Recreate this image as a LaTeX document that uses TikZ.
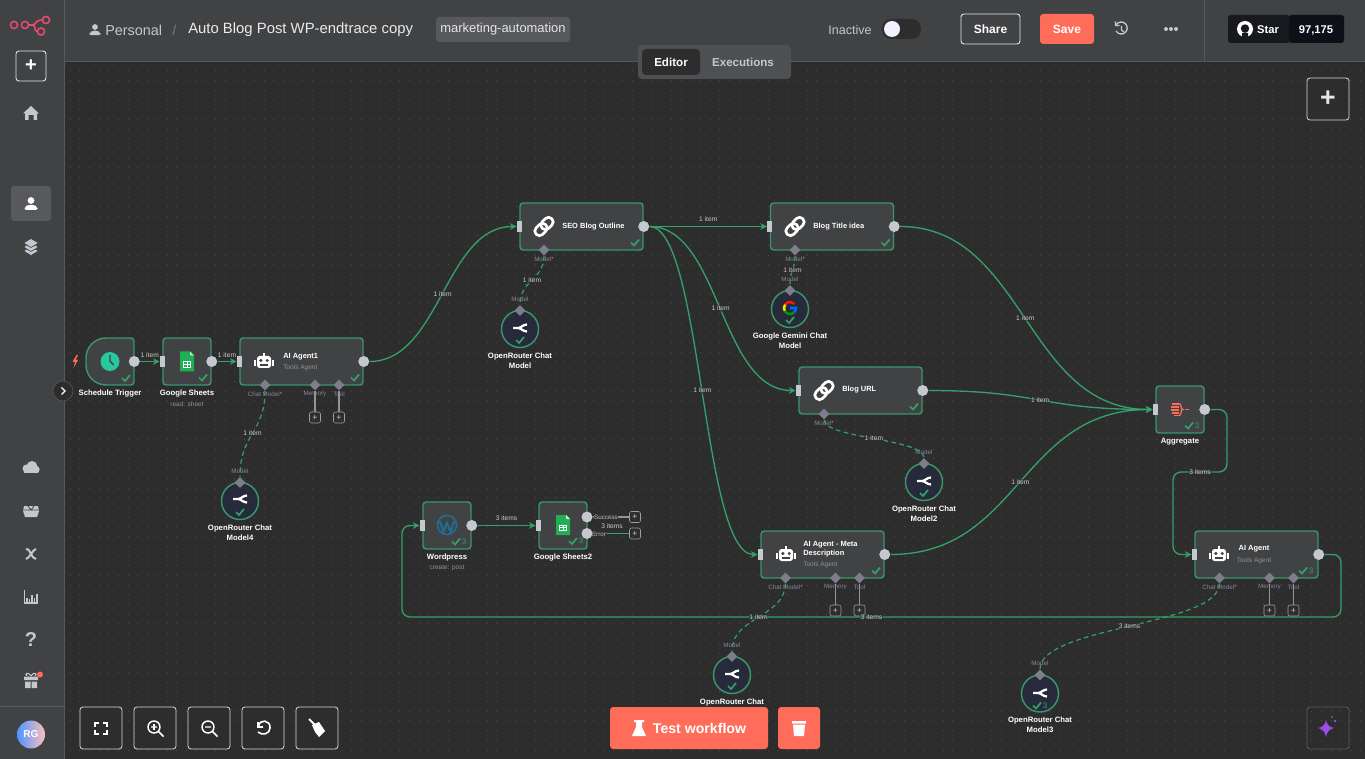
\documentclass[tikz,border=0pt]{standalone}
\usepackage{fontspec}
\setmainfont{Liberation Sans}
\usetikzlibrary{calc,arrows.meta,shapes.geometric}
\newcommand{\pixelsize}{0.75pt}
\definecolor{canvasgray}{HTML}{2D2D2D}
\definecolor{chromegray}{HTML}{414244}
\definecolor{chromeline}{HTML}{58595C}
\definecolor{canvasdot}{HTML}{4A4A4A}
\definecolor{stepgreen}{HTML}{38966A}
\definecolor{edgegreen}{HTML}{35A06A}
\definecolor{portgray}{HTML}{C6C8D0}
\definecolor{markgray}{HTML}{7D7E8C}
\definecolor{taggray}{HTML}{85869A}
\definecolor{iconlight}{HTML}{C4C7CE}
\definecolor{coral}{HTML}{FF6D5A}
\definecolor{logopink}{HTML}{EA4B71}
\definecolor{chatnavy}{HTML}{272A3A}
\definecolor{sheetgreen}{HTML}{20B054}
\definecolor{clockteal}{HTML}{29C79E}
\definecolor{wordblue}{HTML}{1F6E96}
\definecolor{starbase}{HTML}{17191E}
\definecolor{starcount}{HTML}{0D1117}
\tikzset{
	stepbox/.style={draw=stepgreen,fill=chromegray,line width=1.1pt,rounded corners=2.4pt,minimum height=47*\pixelsize,inner sep=0pt},
	inport/.style={fill=portgray,minimum width=5*\pixelsize,minimum height=11*\pixelsize,inner sep=0pt},
	outport/.style={circle,fill=portgray,minimum size=11*\pixelsize,inner sep=0pt},
	portmark/.style={diamond,fill=markgray,minimum size=11*\pixelsize,inner sep=0pt},
	portlabel/.style={text=taggray,font=\fontsize{4.7}{5.5}\selectfont,inner sep=0pt},
	plusbox/.style={draw=iconlight!80!black,rounded corners=1.5pt,minimum size=11*\pixelsize,inner sep=0pt,text=iconlight,font=\fontsize{6.5}{6.5}\selectfont},
	chatcircle/.style={circle,draw=stepgreen,fill=chatnavy,line width=1.1pt,minimum size=37*\pixelsize,inner sep=0pt},
	steptitle/.style={text=white,font=\bfseries\fontsize{5.6}{7}\selectfont,inner sep=0pt,align=left},
	stepname/.style={text=white,font=\bfseries\fontsize{5.8}{7.5}\selectfont,inner sep=0pt,align=center},
	stepnote/.style={text=gray!85!white,font=\fontsize{4.9}{6}\selectfont,inner sep=0pt},
	itemlabel/.style={text=white!80!black,font=\fontsize{5}{6}\selectfont,fill=canvasgray,fill opacity=0.55,text opacity=1,inner sep=0.6pt},
	flowedge/.style={draw=edgegreen,line width=1pt,-{Stealth[length=5pt,width=5pt]}},
	modeledge/.style={draw=edgegreen,line width=0.9pt,dash pattern=on 3.5pt off 2.6pt},
	plainedge/.style={draw=edgegreen,line width=1pt},
	graywire/.style={draw=iconlight!75!black,line width=0.8pt},
	toolbutton/.style={draw=white!85!black,fill=canvasgray,line width=0.6pt,rounded corners=2.2pt,minimum size=42*\pixelsize,inner sep=0pt},
	corallabel/.style={fill=coral,rounded corners=2.4pt,inner sep=0pt,text=white,font=\bfseries\fontsize{10.6}{12}\selectfont},
	chromeicon/.style={fill=iconlight,draw=none},
	chrometext/.style={inner sep=0pt,font=\fontsize{10.8}{13}\selectfont}
}
\newcommand{\makecheck}[4][edgegreen]{
	\begin{scope}[shift={(#2,#3)}]
	\draw[#1,line width=1.3pt] (-4,0) -- (-1,3) -- (4,-3);
	\ifx&#4&\else\node[inner sep=0pt,text=#1,font=\fontsize{6}{7}\selectfont] at (8,0) {#4};\fi
	\end{scope}
}
\newcommand{\makestep}[5]{
	\node[stepbox,minimum width=#4*\pixelsize] (#1) at (#2,#3) {};
	\node[inport] (#1In) at (#1.west) {};
	\node[outport] (#1Out) at (#1.east) {};
	\coordinate (#1Check) at ($(#1.south east)+(-8,-7)$);
	\ifx&#5&\makecheck{#2+#4/2-8}{#3+16}{}\else\makecheck{#2+#4/2-15}{#3+16}{#5}\fi
}
\newcommand{\makeport}[5]{
	\node[portmark] (#1) at (#2,#3) {};
	\node[portlabel] (#1Tag) at (#2,#3+9) {#4\ifx&#5&\else\textcolor{coral}{*}\fi};
}
\newcommand{\makeplus}[4]{
	\node[plusbox] (#1) at (#2,#3) {+};
	\draw[graywire] (#4) -- (#1);
}
\newcommand{\maketools}[3]{
	\makeport{#1Chat}{#2+24}{#3+23.5}{Chat Model}{*}
	\makeport{#1Memory}{#2+74}{#3+23.5}{Memory}{}
	\makeport{#1Tool}{#2+98}{#3+23.5}{Tool}{}
	\makeplus{#1MemoryAdd}{#2+74}{#3+56}{#1Memory}
	\makeplus{#1ToolAdd}{#2+98}{#3+56}{#1Tool}
}
\newcommand{\makechat}[6]{
	\node[chatcircle] (#1) at (#2,#3) {};
	\node[portmark] (#1Top) at (#2,#3-18.5) {};
	\node[portlabel] (#1Tag) at (#2,#3-30) {Model};
	\node[stepname,anchor=north] (#1Name) at (#2,#3+23.5) {#4};
	\ifx&#5&\makecheck{#2}{#3+11}{}\else\makecheck{#2-3}{#3+12}{#5}\fi
	#6
}
\newcommand{\makerouter}[2]{
	\begin{scope}[shift={(#1,#2)}]
	\draw[white,line width=1.7pt] (-7,0) -- (-2,0) .. controls (1,0) and (3,-3.5) .. (7,-3.5);
	\draw[white,line width=1.7pt] (-2,0) .. controls (1,0) and (3,3.5) .. (7,3.5);
	\end{scope}
}
\newcommand{\makerobot}[2]{
	\begin{scope}[shift={(#1,#2)}]
	\fill[white,rounded corners=2pt] (-7,-5) rectangle (7,7);
	\fill[white] (-10,-1) rectangle (-8,5);
	\fill[white] (8,-1) rectangle (10,5);
	\fill[white] (-0.7,-8) rectangle (0.7,-4);
	\fill[chromegray] (-3.2,-0.5) circle (1.7);
	\fill[chromegray] (3.2,-0.5) circle (1.7);
	\fill[chromegray] (-4,3.2) rectangle (4,5);
	\end{scope}
}
\newcommand{\makelink}[2]{
	\begin{scope}[shift={(#1,#2)},rotate=45]
	\draw[white,line width=2pt,rounded corners=3.3pt] (-11,-4.6) rectangle (2.5,4.6);
	\draw[white,line width=2pt,rounded corners=3.3pt] (-2.5,-4.6) rectangle (11,4.6);
	\end{scope}
}
\newcommand{\makesheet}[2]{
	\begin{scope}[shift={(#1,#2)}]
	\fill[sheetgreen] (-7,-10) -- (3,-10) -- (7,-6) -- (7,10) -- (-7,10) -- cycle;
	\fill[white!70!sheetgreen] (3,-10) -- (7,-6) -- (3,-6) -- cycle;
	\draw[white,line width=0.6pt] (-3.5,0) rectangle (3.5,5.5);
	\draw[white,line width=0.6pt] (0,0) -- (0,5.5) (-3.5,2.8) -- (3.5,2.8);
	\end{scope}
}
\newcommand{\makeuser}[4]{
	\begin{scope}[shift={(#1,#2)},scale=#3]
	\fill[#4] (0,-3.5) circle (3.4);
	\fill[#4,rounded corners=1.5pt] (-6.5,6) -- (-6.5,3) -- (-3,0.8) -- (3,0.8) -- (6.5,3) -- (6.5,6) -- cycle;
	\end{scope}
}
\begin{document}
\begin{tikzpicture}[x=\pixelsize,y=-\pixelsize]
	\useasboundingbox (0,0) rectangle (1365,759);
	\fill[canvasgray] (0,0) rectangle (1365,759);
	\foreach \row in {71,80.7,...,750}
		\draw[canvasdot,line width=0.75pt,dash pattern=on 0.75pt off 6.525pt] (69.5,\row) -- (1365,\row);

	\draw[stepbox] (134,338) [rounded corners=2.4pt] -- (134,385) [rounded corners=15pt] -- (86,385) -- (86,338) [rounded corners=2.4pt] -- cycle;
	\node[minimum width=48*\pixelsize,minimum height=47*\pixelsize,inner sep=0pt] (trigger) at (110,361.5) {};
	\node[outport] (triggerOut) at (trigger.east) {};
	\fill[clockteal] (trigger) circle (9.5);
	\draw[chromegray,line width=1.1pt] (110,355) -- (110,361) -- (113.5,365);
	\makecheck{126}{378}{}
	\fill[coral] (76.5,355) -- (72.5,362) -- (75,362) -- (73.5,368) -- (78,360) -- (75.5,360) -- (78,355) -- cycle;
	\node[stepname] (triggerName) at (110,393.5) {Schedule Trigger};

	\makestep{sheetOne}{187}{361.5}{48}{}
	\makesheet{187}{361.5}
	\node[stepname] (sheetOneName) at (187,393.5) {Google Sheets};
	\node[stepnote] (sheetOneNote) at (187,404) {read: sheet};

	\makestep{agentOne}{301.5}{361.5}{123}{}
	\makerobot{264}{361}
	\node[steptitle,anchor=west] (agentOneName) at (283,357) {AI Agent1};
	\node[stepnote,anchor=west] (agentOneNote) at (283,368) {Tools Agent};
	\maketools{agentOne}{241}{361.5}
	\makechat{chatFour}{240}{501}{OpenRouter Chat\\Model4}{}{\makerouter{240}{499}}

	\makestep{outline}{581.5}{226.5}{123}{}
	\makelink{544}{226.5}
	\node[steptitle,anchor=west] (outlineName) at (562,226.5) {SEO Blog Outline};
	\makeport{outlineModel}{544}{250}{Model}{*}
	\makechat{chatOne}{520}{329}{OpenRouter Chat\\Model}{}{\makerouter{520}{328}}

	\makestep{idea}{832}{226.5}{123}{}
	\makelink{795}{226.5}
	\node[steptitle,anchor=west] (ideaName) at (813,226.5) {Blog Title idea};
	\makeport{ideaModel}{795}{250}{Model}{*}
	\makechat{gemini}{790}{309}{Google Gemini Chat\\Model}{}{
		\begin{scope}[shift={(790,308)}]
		\draw[red!80!orange,line width=1.9pt] (215:6) arc[start angle=215,end angle=315,radius=6];
		\draw[yellow!85!orange,line width=1.9pt] (150:6) arc[start angle=150,end angle=215,radius=6];
		\draw[green!60!black,line width=1.9pt] (45:6) arc[start angle=45,end angle=150,radius=6];
		\draw[blue!60!cyan,line width=1.9pt] (0,0) -- (6,0) arc[start angle=0,end angle=45,radius=6];
		\end{scope}
	}

	\makestep{url}{860.5}{390.5}{123}{}
	\makelink{824}{390.5}
	\node[steptitle,anchor=west] (urlName) at (842,390) {Blog URL};
	\makeport{urlModel}{824}{414}{Model}{*}
	\makechat{chatTwo}{924}{482}{OpenRouter Chat\\Model2}{}{\makerouter{924}{481}}

	\makestep{aggregate}{1180}{409.5}{48}{3}
	\begin{scope}[shift={(1179,409.5)},coral,line width=0.95pt]
	\draw (-7,-5.5) -- (0,-5.5) (-8,-2.5) -- (0,-2.5) (-8,0.5) -- (0,0.5) (-7,3.5) -- (0,3.5) (-5,6) -- (0,6);
	\draw (0,-6) .. controls (3,-6) and (1,0) .. (4,0) .. controls (1,0) and (3,6) .. (0,6);
	\draw (6,0) -- (10,0);
	\end{scope}
	\node[stepname] (aggregateName) at (1180,441.5) {Aggregate};

	\makestep{agent}{1256.5}{554.5}{123}{3}
	\makerobot{1219}{554}
	\node[steptitle] (agentName) at (1254,549) {AI Agent};
	\node[stepnote] (agentNote) at (1254,560.5) {Tools Agent};
	\maketools{agent}{1195.5}{554.5}
	\makechat{chatThree}{1040}{693.5}{OpenRouter Chat\\Model3}{3}{\makerouter{1040}{693}}

	\makestep{meta}{822.5}{554.5}{123}{}
	\makerobot{786}{554}
	\node[steptitle,anchor=west] (metaName) at (803,549) {AI Agent - Meta\\Description};
	\node[stepnote,anchor=west] (metaNote) at (803,565) {Tools Agent};
	\maketools{meta}{761.5}{554.5}
	\makechat{chatZero}{732}{675}{OpenRouter Chat}{}{\makerouter{732}{674}}

	\makestep{wordpress}{447}{525.5}{48}{3}
	\begin{scope}[shift={(447,525)}]
	\draw[wordblue,line width=1.2pt] (0,0) circle (9.5);
	\draw[wordblue,line width=1.5pt] (-7,-3.5) -- (-3.5,6.5) -- (0,-2) -- (3.5,6.5) -- (7,-3.5);
	\end{scope}
	\node[stepname] (wordpressName) at (447,557.5) {Wordpress};
	\node[stepnote] (wordpressNote) at (447,568) {create: post};

	\node[stepbox,minimum width=48*\pixelsize] (sheetTwo) at (563,525.5) {};
	\node[inport] (sheetTwoIn) at (sheetTwo.west) {};
	\node[outport] (sheetTwoPass) at (587,517) {};
	\node[outport] (sheetTwoFail) at (587,533.5) {};
	\makecheck{573}{541}{3}
	\makesheet{563}{525}
	\node[stepname] (sheetTwoName) at (563,557.5) {Google Sheets2};
	\node[plusbox] (passAdd) at (635,517) {+};
	\node[plusbox] (failAdd) at (635,533.5) {+};
	\draw[graywire] (sheetTwoPass) -- (passAdd);
	\draw[plainedge] (sheetTwoFail) -- (failAdd);
	\node[portlabel,text=white!75!black,fill=canvasgray] (passTag) at (606,517) {Success};
	\node[portlabel,text=white!75!black,fill=canvasgray] (failTag) at (599,534) {Error};
	\node[itemlabel] (failCount) at (612,526) {3 items};

	\draw[flowedge] (triggerOut) -- node[itemlabel,yshift=4.5pt] (itemA) {1 item} (sheetOneIn);
	\draw[flowedge] (sheetOneOut) -- node[itemlabel,yshift=4.5pt] (itemB) {1 item} (agentOneIn);
	\draw[flowedge] (agentOneOut) .. controls (440,361.5) and (445,226.5) .. node[itemlabel] (itemC) {1 item} (outlineIn);
	\draw[flowedge] (outlineOut) -- node[itemlabel,yshift=5.5pt] (itemD) {1 item} (ideaIn);
	\draw[flowedge] (outlineOut) .. controls (720,226.5) and (720,390.5) .. node[itemlabel] (itemE) {1 item} (urlIn);
	\draw[flowedge] (outlineOut) .. controls (702,226.5) and (702,554.5) .. node[itemlabel] (itemF) {1 item} (metaIn);
	\draw[flowedge] (ideaOut) .. controls (1025,226.5) and (1025,409.5) .. node[itemlabel] (itemG) {1 item} (aggregateIn);
	\draw[flowedge] (urlOut) .. controls (1040,390.5) and (1040,409.5) .. node[itemlabel] (itemH) {1 item} (aggregateIn);
	\draw[flowedge] (metaOut) .. controls (1020,554.5) and (1020,409.5) .. node[itemlabel] (itemI) {1 item} (aggregateIn);
	\draw[flowedge,rounded corners=6pt] (aggregateOut) -- (1227,409.5) -- (1227,472) -- node[itemlabel] (itemJ) {3 items} (1173,472) -- (1173,554.5) -- (agentIn);
	\draw[flowedge,rounded corners=6pt] (agentOut) -- (1341,554.5) -- (1341,617) -- node[itemlabel] (itemK) {3 items} (402,617) -- (402,525.5) -- (wordpressIn);
	\draw[flowedge] (wordpressOut) -- node[itemlabel,yshift=5.5pt] (itemL) {3 items} (sheetTwoIn);

	\draw[modeledge] (agentOneChat) .. controls (265,433) and (240,433) .. node[itemlabel] (itemM) {1 item} (chatFourTop);
	\draw[modeledge] (outlineModel) .. controls (544,280) and (520,280) .. node[itemlabel] (itemN) {1 item} (chatOneTop);
	\draw[modeledge] (ideaModel) .. controls (795,270) and (790,270) .. node[itemlabel] (itemO) {1 item} (geminiTop);
	\draw[modeledge] (urlModel) .. controls (824,438.5) and (924,438.5) .. node[itemlabel] (itemP) {1 item} (chatTwoTop);
	\draw[modeledge] (metaChat) .. controls (785,617) and (732,617) .. node[itemlabel] (itemQ) {1 item} (chatZeroTop);
	\draw[modeledge] (agentChat) .. controls (1219,626) and (1040,626) .. node[itemlabel] (itemR) {3 items} (chatThreeTop);

	\fill[chromegray] (0,0) rectangle (64,759);
	\fill[chromegray] (0,0) rectangle (1365,62);
	\draw[chromeline,line width=0.75pt] (64,0) -- (64,759);
	\draw[chromeline,line width=0.75pt] (64,62) -- (1365,62);
	\draw[chromeline,line width=0.75pt] (1204,0) -- (1204,62);
	\draw[chromeline,line width=0.75pt] (0,706) -- (64,706);

	\begin{scope}[logopink,line width=1.15pt]
	\draw (14,25) circle (3.6);
	\draw (25,25) circle (3.6);
	\draw (28.6,25) -- (32,25) .. controls (37,25) and (34,20) .. (42.5,20);
	\draw (32,25) .. controls (37,25) and (33,31.5) .. (37.5,31.5);
	\draw (46,20) circle (3.6);
	\draw (41,31.5) circle (3.6);
	\end{scope}
	\node[draw=white!90!black,line width=0.7pt,rounded corners=2.2pt,minimum size=30*\pixelsize,inner sep=0pt,text=white,font=\bfseries\fontsize{15}{15}\selectfont] (addLeft) at (31,66) {+};
	\fill[chromeicon] (31,106) -- (39,113.5) -- (37,113.5) -- (37,120) -- (33.5,120) -- (33.5,115) -- (28.5,115) -- (28.5,120) -- (25,120) -- (25,113.5) -- (23,113.5) -- cycle;
	\fill[chromeline] (11,186) [rounded corners=2.4pt] rectangle (51,221);
	\makeuser{31}{204}{1}{white}
	\foreach \layer in {251,247,243}
		\filldraw[draw=chromegray,fill=iconlight,line width=0.5pt] (31,\layer-4.5) -- (38.5,\layer) -- (31,\layer+4.5) -- (23.5,\layer) -- cycle;
	\fill[chromeicon] (24,473) rectangle (38,469) (26.5,468.5) circle (4) (32,466.5) circle (5.5) (36,469.5) circle (3.7);
	\fill[chromeicon] (24,506) -- (38,506) -- (39,511) -- (37,517) -- (25,517) -- (23,511) -- cycle;
	\draw[chromegray,line width=0.6pt] (23,510) -- (39,510) (28,506) -- (31,510) -- (34,506);
	\draw[iconlight,line width=1.5pt] (26,549) .. controls (30,547) and (31,559) .. (36,559);
	\draw[iconlight,line width=1.5pt] (36,549) .. controls (33,549) and (29,559) .. (26,559);
	\draw[iconlight,line width=0.9pt] (24.5,590) -- (24.5,603) -- (38,603);
	\foreach \bar/\height in {27/4,29.5/2.5,32/7,34.5/4,37/8}
		\draw[iconlight,line width=0.9pt] (\bar,601.5) -- (\bar,601.5-\height);
	\node[inner sep=0pt,text=iconlight,font=\bfseries\fontsize{15}{15}\selectfont] (helpMark) at (31,640) {?};
	\fill[chromeicon] (24,680) rectangle (38,676.5) (25,681.5) rectangle (30.5,688) (31.5,681.5) rectangle (37,688);
	\draw[iconlight,line width=0.8pt] (31,676) .. controls (28,671) and (24,674) .. (27,676) (31,676) .. controls (34,671) and (38,674) .. (35,676);
	\fill[coral] (40,674.5) circle (3);
	\node[circle,minimum size=28*\pixelsize,inner sep=0pt,left color=blue!60!cyan!70!white,right color=white!75!red,text=white,font=\bfseries\fontsize{7.5}{8}\selectfont] (avatar) at (31,734.5) {RG};
	\node[circle,draw=chromeline,fill=canvasgray,minimum size=20*\pixelsize,inner sep=0pt] (expand) at (63,391) {};
	\draw[white,line width=0.9pt] (61.5,387.5) -- (65,391) -- (61.5,394.5);

	\makeuser{95}{30}{0.85}{iconlight}
	\node[chrometext,anchor=west,text=iconlight] (space) at (105,30) {Personal};
	\node[chrometext,anchor=west,text=chromeline!80!white] (slash) at (172,30) {/};
	\node[chrometext,anchor=west,text=white!92!black,font=\fontsize{11.15}{13}\selectfont] (title) at (188,30) {Auto Blog Post WP-endtrace copy};
	\node[fill=chromeline,rounded corners=2.4pt,minimum width=134*\pixelsize,minimum height=25*\pixelsize,inner sep=0pt,text=white!90!black,font=\fontsize{9.7}{11}\selectfont] (tagBox) at (503,29.5) {marketing-automation};
	\node[inner sep=0pt,text=iconlight,font=\fontsize{9.4}{11}\selectfont] (inactive) at (850,30) {Inactive};
	\fill[canvasgray,rounded corners=7pt] (882,19) rectangle (921,39);
	\fill[white!95!blue] (892,29) circle (8);
	\node[draw=white!90!black,line width=0.7pt,rounded corners=2.2pt,minimum width=59*\pixelsize,minimum height=30*\pixelsize,inner sep=0pt,text=white,font=\bfseries\fontsize{9}{11}\selectfont] (share) at (990.5,29) {Share};
	\node[corallabel,minimum width=54*\pixelsize,minimum height=30*\pixelsize,font=\bfseries\fontsize{9}{11}\selectfont] (save) at (1067,29) {Save};
	\draw[iconlight,line width=1pt] (1116,25) arc[start angle=210,end angle=510,radius=6];
	\draw[iconlight,line width=0.9pt] (1115.5,21.5) -- (1115.5,25.5) -- (1119.5,25.5) (1121.5,26) -- (1121.5,30) -- (1124,32);
	\foreach \spot in {1166,1171,1176}
		\fill[iconlight] (\spot,29) circle (2);
	\fill[starbase,rounded corners=2pt] (1228,15) rectangle (1290,43);
	\fill[starcount,rounded corners=2pt] (1289,15) rectangle (1344,43);
	\fill[white] (1245,29) circle (8);
	\fill[starbase] (1245,28.5) circle (4.2) (1242,33) rectangle (1248,38);
	\node[inner sep=0pt,text=white,font=\bfseries\fontsize{8.4}{10}\selectfont] (star) at (1268,30) {Star};
	\node[inner sep=0pt,text=white,font=\bfseries\fontsize{8.4}{10}\selectfont] (stars) at (1316,30) {97,175};

	\fill[chromeline!90!black,rounded corners=3pt] (638,45) rectangle (791,79);
	\fill[canvasgray,rounded corners=3pt] (642,49) rectangle (700,75);
	\node[inner sep=0pt,text=white,font=\bfseries\fontsize{8.7}{10}\selectfont] (editor) at (671,62) {Editor};
	\node[inner sep=0pt,text=iconlight,font=\bfseries\fontsize{8.7}{10}\selectfont] (runs) at (743,62) {Executions};

	\node[toolbutton,font=\bfseries\fontsize{20}{20}\selectfont,text=white!90!black] (addRight) at (1328,99) {+};
	\node[toolbutton] (fit) at (101,728) {};
	\node[toolbutton] (zoomIn) at (155,728) {};
	\node[toolbutton] (zoomOut) at (209,728) {};
	\node[toolbutton] (reset) at (263,728) {};
	\node[toolbutton] (clean) at (317,728) {};
	\draw[white,line width=1.1pt] (95,727) -- (95,723) -- (99,723) (103,723) -- (107,723) -- (107,727) (107,730) -- (107,734) -- (103,734) (99,734) -- (95,734) -- (95,730);
	\foreach \lens in {154,208}
		\draw[white,line width=1.1pt] (\lens,727) circle (6) (\lens+4.5,731.5) -- (\lens+9.5,736.5) (\lens-3,727) -- (\lens+3,727);
	\draw[white,line width=1.1pt] (154,724) -- (154,730);
	\draw[white,line width=1.2pt] (258,722) -- (258,727) -- (263,727) (258.5,727) .. controls (259,718) and (271,720) .. (270,728) .. controls (270,734) and (262,736) .. (258,732);
	\fill[white] (312,725) -- (319,722) -- (325,731) -- (319,737) -- (315,732) -- cycle;
	\draw[white,line width=1.4pt] (309,719) -- (315,725);
	\node[draw=chromeline,line width=0.7pt,rounded corners=2.2pt,minimum size=42*\pixelsize,inner sep=0pt] (magic) at (1328,728) {};
	\fill[violet!50!magenta!60!blue!70!white] (1326,720) .. controls (1327,725) and (1329,727) .. (1334,728) .. controls (1329,729) and (1327,732) .. (1326,737) .. controls (1325,732) and (1323,729) .. (1318,728) .. controls (1323,727) and (1325,725) .. (1326,720) -- cycle;
	\fill[violet!50!magenta!60!blue!70!white] (1335,721) circle (1.4) (1332,717) circle (1);

	\node[corallabel,minimum width=158*\pixelsize,minimum height=42*\pixelsize] (testRun) at (689,728) {\hspace{15.75pt}Test workflow};
	\node[corallabel,minimum width=42*\pixelsize,minimum height=42*\pixelsize] (trash) at (799,728) {};
	\fill[white] (634,720) rectangle (644,722) (636,722) -- (642,722) -- (642,727) -- (646,736) -- (632,736) -- (636,727) -- cycle;
	\fill[white] (792,721) rectangle (806,723.5) (793,724.5) -- (805,724.5) -- (804,736) -- (794,736) -- cycle;
	\end{tikzpicture}
\end{document}
